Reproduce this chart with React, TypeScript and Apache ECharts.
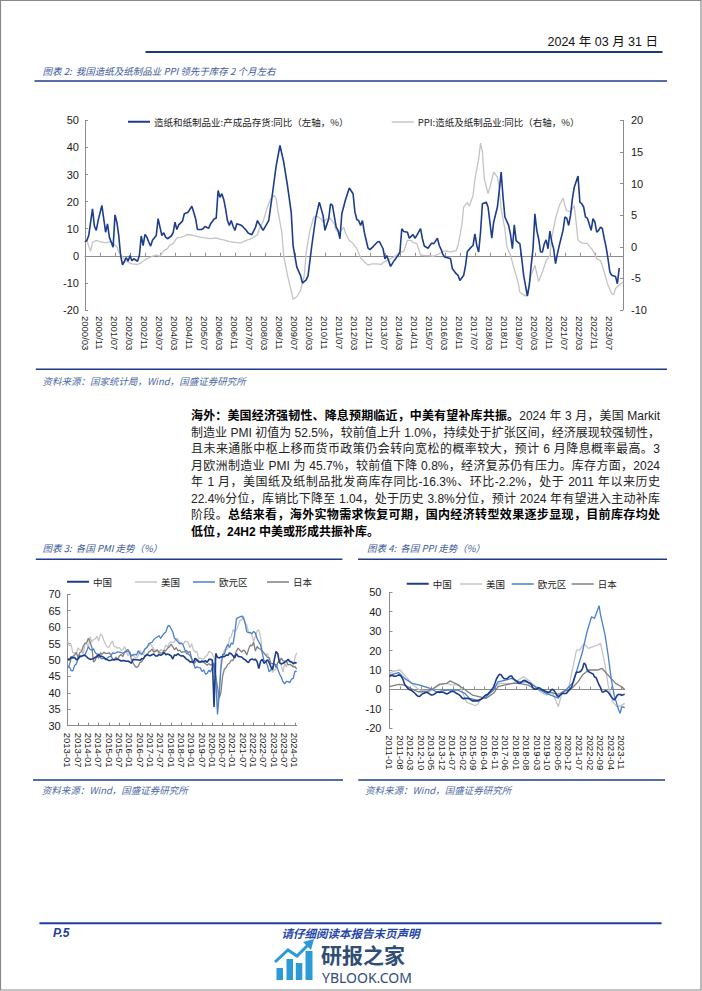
import React, { useEffect, useRef } from "react";
import * as echarts from "echarts";

// ---------- helpers for month category labels ----------
function monthSeq(y: number, m: number, n: number, sep: string): string[] {
  const out: string[] = [];
  for (let i = 0; i < n; i++) {
    const t = m - 1 + i;
    const yy = y + Math.floor(t / 12);
    const mm = (t % 12) + 1;
    out.push(`${yy}${sep}${mm < 10 ? "0" : ""}${mm}`);
  }
  return out;
}

// ---------- Chart 2 (图表2) data ----------
const invCategories = monthSeq(2000, 3, 288, "/");
const invName = "造纸和纸制品业:产成品存货:同比（左轴，%）";
const ppiPaperName = "PPI:造纸及纸制品业:同比（右轴，%）";

const inventoryYoY: [string, number][] = [
  ["2000/03", 5.1], ["2000/04", 5.7], ["2000/05", 7.5], ["2000/07", 17.3], ["2000/08", 11], ["2000/09", 9.4],
  ["2000/10", 13], ["2000/12", 18.6], ["2001/01", 13.6], ["2001/02", 8.7], ["2001/03", 11.8], ["2001/04", 6.9],
  ["2001/06", 3.2], ["2001/07", 15.1], ["2001/08", 12.4], ["2001/09", 7.5], ["2001/10", 0.1], ["2001/11", -3.3],
  ["2001/12", -2.1], ["2002/01", -0.7], ["2002/02", -2], ["2002/03", 0.1], ["2002/04", -1.8], ["2002/05", -1.1],
  ["2002/07", -2], ["2002/08", 0.1], ["2002/09", 7.3], ["2002/10", 3.8], ["2002/11", 7.9], ["2002/12", 6.9],
  ["2003/01", 5.1], ["2003/02", 3.6], ["2003/03", 5.7], ["2003/05", 7.5], ["2003/06", 13.7], ["2003/07", 10.6],
  ["2003/08", 7.5], ["2003/09", 8.5], ["2003/10", 6.9], ["2003/11", 6.3], ["2004/01", 7.3], ["2004/02", 8.5],
  ["2004/03", 12.4], ["2004/04", 9.7], ["2004/05", 11.4], ["2004/07", 12.8], ["2004/08", 15.5], ["2004/10", 16.1],
  ["2004/12", 18.3], ["2005/01", 16.1], ["2005/02", 13.7], ["2005/03", 9.7], ["2005/05", 9.7], ["2005/06", 10],
  ["2005/07", 10.8], ["2005/09", 10.2], ["2005/10", 11.8], ["2005/12", 13.7], ["2006/01", 13.9], ["2006/02", 24.1],
  ["2006/03", 21.6], ["2006/04", 22.9], ["2006/05", 20.8], ["2006/06", 17.3], ["2006/07", 13], ["2006/08", 11.2],
  ["2006/09", 13], ["2006/10", 10.9], ["2006/11", 9.4], ["2006/12", 11.8], ["2007/02", 11.4], ["2007/03", 10.9],
  ["2007/05", 9.4], ["2007/06", 8.4], ["2007/08", 7.8], ["2007/10", 10.6], ["2007/11", 13], ["2008/01", 10.6],
  ["2008/02", 9.4], ["2008/03", 10.6], ["2008/05", 13], ["2008/07", 22.9], ["2008/09", 33.3], ["2008/11", 40.7],
  ["2009/01", 34.6], ["2009/03", 26], ["2009/05", 16.1], ["2009/06", 3.8], ["2009/08", -4.2], ["2009/10", -7.3],
  ["2009/11", -10.1], ["2010/01", -8.9], ["2010/02", -7.3], ["2010/04", 3.8], ["2010/06", 13.7], ["2010/08", 19.8],
  ["2010/10", 14.9], ["2010/11", 9.4], ["2011/01", 13.7], ["2011/02", 19.2], ["2011/03", 18.6], ["2011/05", 10.6],
  ["2011/06", 9.4], ["2011/07", 6.3], ["2011/08", 15.5], ["2011/10", 20.8], ["2011/12", 25], ["2012/02", 22.9],
  ["2012/03", 16.1], ["2012/04", 13.4], ["2012/05", 13], ["2012/06", 11.2], ["2012/07", 13], ["2012/08", 8.7],
  ["2012/10", 2.8], ["2012/11", 2.3], ["2013/01", 3.6], ["2013/03", 5.1], ["2013/04", 5.3], ["2013/06", 2.6],
  ["2013/07", -1.1], ["2013/08", 0.1], ["2013/10", -3.9], ["2013/12", -1.7], ["2014/02", 0.1], ["2014/03", 1.4],
  ["2014/04", 10], ["2014/05", 9], ["2014/07", 8.7], ["2014/08", 6.5], ["2014/10", 7.8], ["2014/11", 6.5],
  ["2014/12", 7.5], ["2015/02", 10], ["2015/03", 6.3], ["2015/04", 3.6], ["2015/06", 2.8], ["2015/07", 3.8],
  ["2015/08", 4.7], ["2015/09", 4.4], ["2015/11", 6.5], ["2015/12", 3.8], ["2016/01", 2.3], ["2016/02", 0.4],
  ["2016/03", -0.5], ["2016/05", -0.8], ["2016/06", -1.1], ["2016/07", -4.8], ["2016/09", -6.6], ["2016/10", -7.2],
  ["2016/11", -9.1], ["2017/01", -7.2], ["2017/02", -3.6], ["2017/03", 1.6], ["2017/05", 3.2], ["2017/06", 3.8],
  ["2017/07", 8.1], ["2017/08", 3.8], ["2017/09", 1.4], ["2017/10", 8.7], ["2017/11", 19.2], ["2018/01", 19.8],
  ["2018/02", 18], ["2018/03", 12.4], ["2018/04", 6.5], ["2018/05", 12.4], ["2018/07", 18], ["2018/08", 24.1],
  ["2018/09", 30.9], ["2018/10", 21.7], ["2018/11", 14.3], ["2019/01", 11.2], ["2019/02", 7.8], ["2019/03", 2.6],
  ["2019/04", 11.4], ["2019/05", 5.6], ["2019/07", 4.4], ["2019/08", -1.1], ["2019/09", -7.2], ["2019/11", -14.9],
  ["2019/12", -10.9], ["2020/01", -3.6], ["2020/02", 2.6], ["2020/03", 15.5], ["2020/04", 9.4], ["2020/05", 6.3],
  ["2020/06", 1.4], ["2020/07", 1.4], ["2020/08", 4.4], ["2020/09", 5.9], ["2020/10", 2.6], ["2020/11", 9.1],
  ["2020/12", 5.1], ["2021/01", 2.6], ["2021/02", -2.9], ["2021/03", 0.7], ["2021/04", 3.8], ["2021/06", 9.4],
  ["2021/07", 14.3], ["2021/08", 13.9], ["2021/09", 11.2], ["2021/10", 14.9], ["2021/11", 21], ["2021/12", 25.3],
  ["2022/02", 29.4], ["2022/03", 19.8], ["2022/04", 19.2], ["2022/05", 18], ["2022/06", 14.3], ["2022/07", 13.9],
  ["2022/09", 9.4], ["2022/10", 13.7], ["2022/11", 12.4], ["2022/12", 8.7], ["2023/01", 9.4], ["2023/02", 10.6],
  ["2023/03", 10], ["2023/04", 6.3], ["2023/05", 3.2], ["2023/06", -1.1], ["2023/07", -6], ["2023/08", -7.2],
  ["2023/10", -7.6], ["2023/11", -10.3], ["2023/12", -4.5],
];

const paperPpiYoY: [string, number][] = [
  ["2000/03", 0.6], ["2000/04", 1.0], ["2000/06", -0.7], ["2000/07", 0.7], ["2000/09", 1.0], ["2000/11", 0.8],
  ["2001/02", 0.6], ["2001/04", 0.8], ["2001/06", 0.5], ["2001/08", 0], ["2001/09", -0.8], ["2001/11", -1.6],
  ["2002/01", -2.3], ["2002/04", -2.7], ["2002/07", -2.8], ["2002/09", -2.5], ["2002/12", -1.9], ["2003/03", -1.5],
  ["2003/05", -1.3], ["2003/07", -1.5], ["2003/09", -0.6], ["2003/11", -0.3], ["2003/12", 0.2], ["2004/02", 0.5],
  ["2004/04", 1.4], ["2004/06", 1.5], ["2004/08", 1.7], ["2004/09", 1.9], ["2004/11", 1.9], ["2005/02", 1.7],
  ["2005/05", 1.5], ["2005/07", 1.4], ["2005/10", 1.3], ["2006/01", 1.4], ["2006/03", 1.2], ["2006/06", 1.0],
  ["2006/08", 0.8], ["2006/11", 0.7], ["2007/02", 0.6], ["2007/05", 1.0], ["2007/07", 1.2], ["2007/09", 1.5],
  ["2007/11", 1.9], ["2007/12", 2.8], ["2008/02", 4.0], ["2008/04", 6.0], ["2008/06", 7.6], ["2008/08", 8.1],
  ["2008/09", 7.6], ["2008/10", 5.5], ["2008/12", 2.3], ["2009/01", -1.4], ["2009/03", -4.5], ["2009/05", -6.9],
  ["2009/06", -8.3], ["2009/08", -7.9], ["2009/10", -6.9], ["2009/12", -4.5], ["2010/01", -0.8], ["2010/03", 2.6],
  ["2010/05", 4.7], ["2010/07", 4.8], ["2010/09", 4.4], ["2010/10", 3.9], ["2010/12", 4.4], ["2011/02", 4.5],
  ["2011/04", 3.6], ["2011/05", 2.6], ["2011/07", 2.3], ["2011/09", 3.1], ["2011/10", 2.1], ["2011/12", 1.0],
  ["2012/02", 0.5], ["2012/04", -0.3], ["2012/06", -1.7], ["2012/08", -2.4], ["2012/10", -2.9], ["2012/12", -2.7],
  ["2013/02", -2.7], ["2013/05", -2.8], ["2013/06", -2.5], ["2013/08", -2.2], ["2013/10", -1.9], ["2014/01", -1.4],
  ["2014/03", -0.8], ["2014/05", -0.8], ["2014/07", 1.0], ["2014/09", 1.0], ["2014/10", 0.7], ["2014/12", 0.5],
  ["2015/02", -1.3], ["2015/04", -1.4], ["2015/06", -1.4], ["2015/09", -1.5], ["2015/12", -1.1], ["2016/02", -0.7],
  ["2016/04", -0.7], ["2016/06", -0.8], ["2016/09", -0.6], ["2016/10", 0.2], ["2016/12", 3.4], ["2017/01", 6.3],
  ["2017/03", 7.0], ["2017/04", 6.4], ["2017/06", 8.1], ["2017/07", 10.7], ["2017/09", 13.9], ["2017/10", 16.4],
  ["2017/11", 15.0], ["2017/12", 10.7], ["2018/02", 8.4], ["2018/03", 9.4], ["2018/05", 11.8], ["2018/07", 11.0],
  ["2018/08", 9.2], ["2018/09", 6.0], ["2018/11", 2.8], ["2018/12", 0], ["2019/02", -1.4], ["2019/04", -3.5],
  ["2019/06", -5.6], ["2019/07", -7.2], ["2019/10", -7.8], ["2019/11", -7.2], ["2020/01", -4.5], ["2020/03", -2.9],
  ["2020/05", -5.5], ["2020/07", -4.0], ["2020/09", -2.2], ["2020/11", -1.4], ["2020/12", 1.5], ["2021/02", 4.4],
  ["2021/04", 6.5], ["2021/06", 7.7], ["2021/07", 6.5], ["2021/08", 5.7], ["2021/10", 5.5], ["2021/12", 6.5],
  ["2022/01", 3.9], ["2022/02", 1.0], ["2022/04", 0.6], ["2022/07", 0.5], ["2022/10", -0.6], ["2022/12", -1.9],
  ["2023/02", -2.2], ["2023/04", -4.0], ["2023/06", -6.1], ["2023/08", -7.4], ["2023/09", -7.6], ["2023/10", -6.6],
  ["2023/12", -6.0], ["2024/01", -5.8], ["2024/02", -5.6],
];

// ---------- Chart 3 (PMI) data, monthly 2013-01 .. 2024-02 ----------
const pmiCategories = monthSeq(2013, 1, 134, "-");
const pmiChina = [
  50.4, 50.1, 50.9, 50.6, 50.8, 50.1, 50.3, 51.0, 51.1, 51.4, 51.4, 51.0,
  50.5, 50.2, 50.3, 50.4, 50.8, 51.0, 51.7, 51.1, 51.1, 50.8, 50.3, 50.1,
  49.8, 49.9, 50.1, 50.1, 50.2, 50.2, 50.0, 49.7, 49.8, 49.8, 49.6, 49.7,
  49.4, 49.0, 50.2, 50.1, 50.1, 50.0, 49.9, 50.4, 50.4, 51.2, 51.7, 51.4,
  51.3, 51.6, 51.8, 51.2, 51.2, 51.7, 51.4, 51.7, 52.4, 51.6, 51.8, 51.6,
  51.3, 50.3, 51.5, 51.4, 51.9, 51.5, 51.2, 51.3, 50.8, 50.2, 50.0, 49.4,
  49.5, 49.2, 50.5, 50.1, 49.4, 49.4, 49.7, 49.5, 49.8, 49.3, 50.2, 50.2,
  50.0, 35.7, 52.0, 50.8, 50.6, 50.9, 51.1, 51.0, 51.5, 51.4, 52.1, 51.9,
  51.3, 50.6, 51.9, 51.1, 51.0, 50.9, 50.4, 50.1, 49.6, 49.2, 50.1, 50.3,
  50.1, 50.2, 49.5, 47.4, 49.6, 50.2, 49.0, 49.4, 50.1, 49.2, 48.0, 47.0,
  50.1, 52.6, 51.9, 49.2, 48.8, 49.0, 49.3, 49.7, 50.2, 49.5, 49.4, 49.0,
  49.2, 49.1,
];
const pmiUS = [
  55.8, 54.3, 54.6, 52.1, 52.3, 51.9, 53.7, 53.1, 52.8, 51.8, 54.7, 55.0,
  53.7, 57.1, 55.5, 56.2, 56.4, 57.3, 55.8, 57.9, 57.5, 55.9, 54.8, 53.9,
  53.9, 55.1, 55.7, 54.1, 54.0, 53.6, 53.8, 53.0, 53.1, 54.1, 52.8, 51.2,
  52.4, 51.3, 51.5, 50.8, 50.7, 51.3, 52.9, 52.0, 51.5, 53.4, 54.1, 54.3,
  55.0, 54.2, 53.3, 52.8, 52.7, 52.0, 53.3, 52.8, 53.1, 54.6, 53.9, 55.1,
  55.5, 55.3, 55.6, 56.5, 56.4, 55.4, 55.3, 54.7, 55.6, 55.7, 55.3, 53.8,
  54.9, 53.0, 52.4, 52.6, 50.5, 50.6, 50.4, 50.3, 51.1, 51.3, 52.6, 52.4,
  51.9, 50.7, 48.5, 36.1, 39.8, 49.8, 50.9, 53.1, 53.2, 53.4, 56.7, 57.1,
  59.2, 58.6, 59.1, 60.5, 62.1, 62.1, 63.4, 61.1, 60.7, 58.4, 58.3, 57.7,
  55.5, 57.3, 58.8, 59.2, 57.0, 52.7, 52.2, 51.5, 52.0, 50.4, 47.7, 46.2,
  46.9, 47.3, 49.2, 50.2, 48.4, 46.3, 49.0, 47.9, 49.8, 50.0, 49.4, 47.9,
  50.7, 52.2,
];
const pmiEuro = [
  47.9, 47.9, 46.8, 46.7, 48.3, 48.8, 50.3, 51.4, 51.1, 51.3, 51.6, 52.7,
  54.0, 53.2, 53.0, 53.4, 52.2, 51.8, 51.8, 50.7, 50.3, 50.6, 50.1, 50.6,
  51.0, 51.0, 52.2, 52.0, 52.2, 52.5, 52.4, 52.3, 52.0, 52.3, 52.8, 53.2,
  52.3, 51.2, 51.6, 51.7, 51.5, 52.8, 52.0, 51.7, 52.6, 53.5, 53.7, 54.9,
  55.2, 55.4, 56.2, 56.7, 57.0, 57.4, 56.6, 57.4, 58.1, 58.5, 60.1, 60.6,
  59.6, 58.6, 56.6, 56.2, 55.5, 54.9, 55.1, 54.6, 53.2, 52.0, 51.8, 51.4,
  50.5, 49.3, 47.5, 47.9, 47.7, 47.6, 46.5, 47.0, 45.7, 45.9, 46.9, 46.3,
  47.9, 49.2, 44.5, 33.4, 39.4, 47.4, 51.8, 51.7, 53.7, 54.8, 53.8, 55.2,
  54.8, 57.9, 62.5, 62.9, 63.1, 63.4, 62.8, 61.4, 58.6, 58.3, 58.4, 58.0,
  58.7, 58.2, 56.5, 55.5, 54.6, 52.1, 49.8, 49.6, 48.4, 46.4, 47.1, 47.8,
  48.8, 48.5, 47.3, 45.8, 44.8, 43.4, 42.7, 43.5, 43.4, 43.1, 44.2, 44.4,
  46.6, 46.5,
];
const pmiJapan = [
  47.7, 48.5, 50.4, 51.1, 51.5, 52.3, 50.7, 52.2, 52.5, 54.2, 55.1, 55.2,
  56.6, 55.5, 53.9, 49.4, 49.9, 51.5, 50.5, 52.2, 51.7, 52.4, 52.0, 52.0,
  52.2, 51.6, 50.3, 49.9, 50.9, 50.1, 51.2, 51.7, 51.0, 52.4, 52.6, 52.6,
  52.3, 50.1, 49.1, 48.2, 47.7, 48.1, 49.3, 49.5, 50.4, 51.4, 51.3, 52.4,
  52.7, 53.3, 52.4, 52.7, 53.1, 52.4, 52.1, 52.2, 52.9, 52.8, 53.6, 54.0,
  54.8, 54.1, 53.1, 53.8, 52.8, 53.0, 52.3, 52.5, 52.5, 52.9, 52.2, 52.6,
  50.3, 48.9, 49.2, 50.2, 49.8, 49.3, 49.4, 49.3, 48.9, 48.4, 48.9, 48.4,
  48.8, 47.8, 44.8, 41.9, 38.4, 40.1, 45.2, 47.2, 47.7, 48.7, 49.0, 50.0,
  49.8, 51.4, 52.7, 53.6, 53.0, 52.4, 53.0, 52.7, 51.5, 53.2, 54.5, 54.3,
  55.4, 52.7, 54.1, 53.5, 53.3, 52.7, 52.1, 51.5, 50.8, 50.7, 49.0, 48.9,
  48.9, 47.7, 49.2, 49.5, 50.6, 49.8, 49.6, 49.6, 48.5, 48.7, 48.3, 47.9,
  48.0, 47.2,
];

// ---------- Chart 4 (PPI) data ----------
const ppiCategories = monthSeq(2011, 1, 157, "-");
const ppiChina = [
  6.6, 7.2, 7.3, 6.8, 6.8, 7.1, 7.5, 7.3, 6.5, 5.0, 2.7, 1.7,
  0.7, 0.0, -0.3, -0.7, -1.4, -2.1, -2.9, -3.5, -3.6, -2.8, -2.2, -1.9,
  -1.6, -1.6, -1.9, -2.6, -2.9, -2.7, -2.3, -1.6, -1.3, -1.5, -1.4, -1.4,
  -1.6, -2.0, -2.3, -2.0, -1.4, -1.1, -0.9, -1.2, -1.8, -2.2, -2.7, -3.3,
  -4.3, -4.8, -4.6, -4.6, -4.6, -4.8, -5.4, -5.9, -5.9, -5.9, -5.9, -5.9,
  -5.3, -4.9, -4.3, -3.4, -2.8, -2.6, -1.7, -0.8, 0.1, 1.2, 3.3, 5.5,
  6.9, 7.8, 7.6, 6.4, 5.5, 5.5, 5.5, 6.3, 6.9, 6.9, 5.8, 4.9,
  4.3, 3.7, 3.1, 3.4, 4.1, 4.7, 4.6, 4.1, 3.6, 3.3, 2.7, 0.9,
  0.1, 0.1, 0.4, 0.9, 0.6, 0.0, -0.3, -0.8, -1.2, -1.6, -1.4, -0.5,
  0.1, -0.4, -1.5, -3.1, -3.7, -3.0, -2.4, -2.0, -2.1, -2.1, -1.5, -0.4,
  0.3, 1.7, 4.4, 6.8, 9.0, 8.8, 9.0, 9.5, 10.7, 13.5, 12.9, 10.3,
  9.1, 8.8, 8.3, 8.0, 6.4, 6.1, 4.2, 2.3, 0.9, -1.3, -1.3, -0.7,
  -0.8, -1.4, -2.5, -3.6, -4.6, -5.4, -4.4, -3.0, -2.5, -2.6, -3.0, -2.7,
  -2.5,
];
const ppiUS: [string, number][] = [
  ["2011-01", 8.3], ["2011-04", 9.5], ["2011-08", 10], ["2011-12", 6.5], ["2012-05", 2.2], ["2012-09", -0.3],
  ["2013-04", -0.8], ["2013-10", 2.3], ["2014-03", 3.1], ["2014-06", 2.3], ["2014-11", 2.3], ["2015-01", -0.5],
  ["2015-04", -6.5], ["2015-10", -8.4], ["2015-12", -7.2], ["2016-02", -4.6], ["2016-08", -1.2], ["2016-11", 1.4],
  ["2017-02", 3.1], ["2017-07", 3.1], ["2017-11", 3.1], ["2018-06", 6.5], ["2018-09", 4.8], ["2019-01", 2.2],
  ["2019-05", -1.2], ["2019-09", -2.9], ["2020-01", -1.5], ["2020-05", -8.9], ["2020-07", -2.9], ["2020-12", 1.4],
  ["2021-05", 20.2], ["2021-07", 20.2], ["2021-10", 23.6], ["2022-01", 21.1], ["2022-04", 22.0], ["2022-07", 22.8],
  ["2022-09", 23.7], ["2022-12", 12.5], ["2023-02", 2.2], ["2023-05", -6.4], ["2023-08", -9.0], ["2023-11", -8.1],
  ["2024-01", -7.2],
];
const ppiEuro: [string, number][] = [
  ["2011-01", 7.4], ["2011-07", 8.7], ["2011-11", 5.7], ["2012-04", 3.1], ["2012-09", 2.2], ["2013-04", 0.5],
  ["2013-08", -1.2], ["2014-03", -0.3], ["2014-10", -0.3], ["2015-03", -2], ["2015-06", -4.6], ["2015-11", -5.5],
  ["2016-02", -5], ["2016-05", -3.8], ["2016-10", -0.3], ["2017-01", 3.9], ["2017-06", 4.8], ["2017-10", 5.7],
  ["2018-03", 3.9], ["2018-08", 3.9], ["2018-12", 2.2], ["2019-05", -0.3], ["2019-09", -2], ["2019-12", -2.9],
  ["2020-05", -4.5], ["2020-07", -2], ["2020-11", 0.5], ["2021-03", 3.9], ["2021-06", 11.7], ["2021-09", 19.4],
  ["2021-12", 29.7], ["2022-03", 37.4], ["2022-05", 36.6], ["2022-08", 43.1], ["2022-09", 38.3], ["2022-12", 28],
  ["2023-02", 17.7], ["2023-04", 5.7], ["2023-06", -2.9], ["2023-09", -10.6], ["2023-10", -12.3], ["2023-11", -8.9],
  ["2024-01", -9.4],
];
const ppiJapan: [string, number][] = [
  ["2011-01", 1.4], ["2011-07", 2.6], ["2011-11", 2.2], ["2012-04", 0.2], ["2012-08", -1.2], ["2013-02", -1.2],
  ["2013-06", 0.5], ["2013-10", 2.6], ["2014-03", 3.1], ["2014-05", 4.4], ["2014-10", 2.6], ["2015-02", 0.5],
  ["2015-05", -1.2], ["2015-08", -2.9], ["2016-01", -3.8], ["2016-05", -4.6], ["2016-10", -2], ["2017-01", 1.4],
  ["2017-05", 2.2], ["2017-11", 3.1], ["2018-03", 3.1], ["2018-09", 2.2], ["2019-01", 0.5], ["2019-07", -0.8],
  ["2019-12", -1.5], ["2020-05", -2.5], ["2020-09", -0.8], ["2020-12", -0.5], ["2021-03", 1.4], ["2021-06", 3.9],
  ["2021-09", 7.4], ["2022-01", 10], ["2022-04", 10], ["2022-07", 10], ["2022-10", 10.8], ["2023-01", 8.2],
  ["2023-04", 5.7], ["2023-07", 3.1], ["2023-11", 1.4], ["2024-01", 0],
];

const countryNames = ["中国", "美国", "欧元区", "日本"];

// ---------- page text ----------
type Seg = [string, boolean];
const paragraphLines: Seg[][] = [
  [["海外：美国经济强韧性、降息预期临近，中美有望补库共振。", true], ["2024 年 3 月，美国 Markit", false]],
  [["制造业 PMI 初值为 52.5%，较前值上升 1.0%，持续处于扩张区间，经济展现较强韧性，", false]],
  [["且未来通胀中枢上移而货币政策仍会转向宽松的概率较大，预计 6 月降息概率最高。3", false]],
  [["月欧洲制造业 PMI 为 45.7%，较前值下降 0.8%，经济复苏仍有压力。库存方面，2024", false]],
  [["年 1 月，美国纸及纸制品批发商库存同比-16.3%、环比-2.2%，处于 2011 年以来历史", false]],
  [["22.4%分位，库销比下降至 1.04，处于历史 3.8%分位，预计 2024 年有望进入主动补库", false]],
  [["阶段。", false], ["总结来看，海外实物需求恢复可期，国内经济转型效果逐步显现，目前库存均处", true]],
  [["低位，24H2 中美或形成共振补库。", true]],
];

const NUM_FONT = "'Liberation Sans', 'Noto Sans CJK SC', sans-serif";
const CJK_FONT = "'Noto Sans CJK SC', sans-serif";
const AXIS_GRAY = "#8c8c8c";
const LABEL_COLOR = "#1a1a1a";

function toPairs(cats: string[], rows: [string, number][]) {
  const idx = new Map(cats.map((c, i) => [c, i] as [string, number]));
  return rows.map(([d, v]) => [idx.get(d) as number, v]);
}

function buildOption(): any {
  const xLabel = (interval: number, margin: number) => ({
    interval,
    rotate: -90,
    fontSize: 9.5,
    margin,
    color: LABEL_COLOR,
    fontFamily: NUM_FONT,
  });
  const yLabel = (margin: number) => ({ fontSize: 11, margin, color: LABEL_COLOR, fontFamily: NUM_FONT });

  const legendItem = (name: string, left: number, centerY: number, h = 2) => ({
    data: [name],
    left,
    top: centerY - h / 2,
    icon: "rect",
    itemWidth: 22,
    itemHeight: h,
    padding: 0,
    selectedMode: false,
    textStyle: { fontSize: 9.5, color: "#222", fontFamily: CJK_FONT, padding: [0, 0, 0, -1] },
  });

  const lineSeries = (name: string, xi: number, yi: number, data: any[], color: string, width: number, z: number) => ({
    name,
    type: "line",
    xAxisIndex: xi,
    yAxisIndex: yi,
    data,
    symbol: "none",
    showSymbol: false,
    z,
    lineStyle: { color, width },
    itemStyle: { color },
  });

  const colors = ["#1c3c8c", "#c4c4c4", "#4a7fcf", "#7f7f7f"];
  const widths = [1.6, 1.3, 1.3, 1.3];
  const zs = [6, 3, 5, 4];

  const T = (x: number, y: number, text: string, style: any) => ({
    type: "text",
    x,
    y,
    silent: true,
    style: { text, verticalAlign: "middle", align: "left", ...style },
  });
  const L = (x1: number, y1: number, x2: number, y2: number, stroke: string, lineWidth: number) => ({
    type: "line",
    silent: true,
    shape: { x1, y1, x2, y2 },
    style: { stroke, lineWidth },
  });
  const titleStyle = { fontSize: 9.5, fontStyle: "italic", fill: "#3d5a99", fontFamily: CJK_FONT };
  const srcStyle = { fontSize: 9.5, fontStyle: "italic", fill: "#4d6aa3", fontFamily: CJK_FONT };
  const SEC = "#1f3b8c";
  const logoBlue = "#2b9ad6";

  const graphic = [
    { type: "rect", silent: true, shape: { x: 0.5, y: 0.5, width: 700.5, height: 989.5 }, style: { fill: "none", stroke: "#8a8a8a", lineWidth: 1.2 } },
    T(658, 42, "2024 年 03 月 31 日", { align: "right", fontSize: 12.5, fill: "#111", fontFamily: NUM_FONT }),
    L(145.5, 52, 662.5, 52, "#1a3a78", 2),
    T(42.5, 71, "图表 2:  我国造纸及纸制品业 PPI 领先于库存 2 个月左右", titleStyle),
    L(34.5, 81, 667, 81, SEC, 1.5),
    L(35.8, 369.3, 667, 369.3, SEC, 1.5),
    T(42.5, 381, "资料来源：国家统计局，Wind，国盛证券研究所", srcStyle),
    T(42.5, 548, "图表 3:  各国 PMI 走势（%）", titleStyle),
    T(367, 548, "图表 4:  各国 PPI 走势（%）", titleStyle),
    L(35.8, 559.3, 342.4, 559.3, SEC, 1.5),
    L(358, 559.3, 667, 559.3, SEC, 1.5),
    L(33, 780, 343, 780, SEC, 1.5),
    L(358.3, 780, 665, 780, SEC, 1.5),
    T(41.7, 790, "资料来源：Wind，国盛证券研究所", srcStyle),
    T(365, 790, "资料来源：Wind，国盛证券研究所", srcStyle),
    L(39.4, 923.3, 661.6, 923.3, "#1f3fa0", 2),
    T(53, 932.5, "P.5", { fontSize: 12, fontWeight: "bold", fontStyle: "italic", fill: "#1f3fa0", fontFamily: NUM_FONT }),
    T(350.5, 932.5, "请仔细阅读本报告末页声明", { align: "center", fontSize: 11.5, fontWeight: "bold", fontStyle: "italic", fill: "#2645a8", fontFamily: CJK_FONT }),
    // logo
    { type: "rect", silent: true, shape: { x: 276.5, y: 968, width: 6.5, height: 12 }, style: { fill: logoBlue } },
    { type: "rect", silent: true, shape: { x: 286.5, y: 959, width: 6.5, height: 21 }, style: { fill: logoBlue } },
    { type: "rect", silent: true, shape: { x: 295.8, y: 963, width: 6.5, height: 17 }, style: { fill: logoBlue } },
    { type: "rect", silent: true, shape: { x: 305.5, y: 951, width: 7, height: 29 }, style: { fill: logoBlue } },
    { type: "polyline", silent: true, shape: { points: [[275, 962], [288, 950], [297, 956], [308, 945]] }, style: { stroke: logoBlue, lineWidth: 3, fill: "none" } },
    { type: "polygon", silent: true, shape: { points: [[303, 942], [314, 939], [311, 950]] }, style: { fill: logoBlue } },
    T(321, 954, "研报之家", { fontSize: 21, fontWeight: "bold", fill: "#2f4d75", fontFamily: CJK_FONT }),
    T(322, 977, "YBLOOK.COM", { fontSize: 14, fill: "#2f4d75", fontFamily: "'Noto Sans', sans-serif" }),
  ];

  return {
    animation: false,
    backgroundColor: "#ffffff",
    textStyle: { fontFamily: NUM_FONT },
    grid: [
      { left: 85, top: 120.3, width: 538, height: 189.7, containLabel: false },
      { left: 67.7, top: 594.3, width: 229, height: 131.4, containLabel: false },
      { left: 389.5, top: 592.3, width: 235.2, height: 136, containLabel: false },
    ],
    xAxis: [
      {
        type: "category", gridIndex: 0, data: invCategories, boundaryGap: false, position: "bottom",
        axisLine: { show: false, onZero: false }, axisTick: { show: false }, axisLabel: xLabel(7, 6), splitLine: { show: false },
      },
      {
        type: "category", gridIndex: 0, data: invCategories, boundaryGap: false, position: "top",
        axisLine: { show: true, onZero: true, lineStyle: { color: AXIS_GRAY, width: 1 } },
        axisTick: { show: true, interval: 7, length: 3, inside: false, lineStyle: { color: AXIS_GRAY } },
        axisLabel: { show: false }, splitLine: { show: false },
      },
      {
        type: "category", gridIndex: 1, data: pmiCategories, boundaryGap: false, position: "bottom",
        axisLine: { show: true, onZero: false, lineStyle: { color: AXIS_GRAY, width: 1 } },
        axisTick: { show: true, interval: 5, length: 3, inside: true, lineStyle: { color: AXIS_GRAY } },
        axisLabel: xLabel(5, 7), splitLine: { show: false },
      },
      {
        type: "category", gridIndex: 2, data: ppiCategories, boundaryGap: false, position: "bottom",
        axisLine: { show: false, onZero: false }, axisTick: { show: false }, axisLabel: xLabel(6, 7), splitLine: { show: false },
      },
      {
        type: "category", gridIndex: 2, data: ppiCategories, boundaryGap: false, position: "top",
        axisLine: { show: true, onZero: true, lineStyle: { color: AXIS_GRAY, width: 1 } },
        axisTick: { show: true, interval: 6, length: 3, inside: false, lineStyle: { color: AXIS_GRAY } },
        axisLabel: { show: false }, splitLine: { show: false },
      },
    ],
    yAxis: [
      {
        type: "value", gridIndex: 0, min: -20, max: 50, interval: 10, position: "left",
        axisLine: { show: true, lineStyle: { color: AXIS_GRAY } },
        axisTick: { show: true, inside: true, length: 3, lineStyle: { color: AXIS_GRAY } },
        axisLabel: yLabel(6), splitLine: { show: false },
      },
      {
        type: "value", gridIndex: 0, min: -10, max: 20, interval: 5, position: "right",
        axisLine: { show: true, lineStyle: { color: AXIS_GRAY } },
        axisTick: { show: true, inside: true, length: 3, lineStyle: { color: AXIS_GRAY } },
        axisLabel: yLabel(8), splitLine: { show: false },
      },
      {
        type: "value", gridIndex: 1, min: 30, max: 70, interval: 5,
        axisLine: { show: true, lineStyle: { color: AXIS_GRAY } },
        axisTick: { show: true, inside: true, length: 3, lineStyle: { color: AXIS_GRAY } },
        axisLabel: yLabel(7), splitLine: { show: false },
      },
      {
        type: "value", gridIndex: 2, min: -20, max: 50, interval: 10,
        axisLine: { show: true, lineStyle: { color: AXIS_GRAY } },
        axisTick: { show: true, inside: true, length: 3, lineStyle: { color: AXIS_GRAY } },
        axisLabel: yLabel(8), splitLine: { show: false },
      },
    ],
    legend: [
      legendItem(invName, 128, 118),
      legendItem(ppiPaperName, 391.7, 118, 1.5),
      legendItem(countryNames[0], 67, 578),
      legendItem(countryNames[1], 135, 578, 1.5),
      legendItem(countryNames[2], 193, 578, 1.5),
      legendItem(countryNames[3], 267, 578, 1.5),
      legendItem(countryNames[0], 406.7, 580),
      legendItem(countryNames[1], 460, 580, 1.5),
      legendItem(countryNames[2], 511.7, 580, 1.5),
      legendItem(countryNames[3], 571.7, 580, 1.5),
    ],
    series: [
      lineSeries(ppiPaperName, 0, 1, toPairs(invCategories, paperPpiYoY), "#c4c4c4", 1.3, 3),
      lineSeries(invName, 0, 0, toPairs(invCategories, inventoryYoY), "#1c3c8c", 1.6, 5),
      // PMI
      lineSeries(countryNames[0], 2, 2, pmiChina, colors[0], widths[0], zs[0]),
      lineSeries(countryNames[1], 2, 2, pmiUS, colors[1], widths[1], zs[1]),
      lineSeries(countryNames[2], 2, 2, pmiEuro, colors[2], widths[2], zs[2]),
      lineSeries(countryNames[3], 2, 2, pmiJapan, colors[3], widths[3], zs[3]),
      // PPI
      lineSeries(countryNames[0], 3, 3, ppiChina, colors[0], widths[0], zs[0]),
      lineSeries(countryNames[1], 3, 3, toPairs(ppiCategories, ppiUS), colors[1], widths[1], zs[1]),
      lineSeries(countryNames[2], 3, 3, toPairs(ppiCategories, ppiEuro), colors[2], widths[2], zs[2]),
      lineSeries(countryNames[3], 3, 3, toPairs(ppiCategories, ppiJapan), colors[3], widths[3], zs[3]),
    ],
    graphic,
  };
}

export default function App() {
  const ref = useRef<HTMLDivElement>(null);
  useEffect(() => {
    if (!ref.current) return;
    const chart = echarts.init(ref.current, undefined, { renderer: "svg" });
    chart.setOption(buildOption());
    return () => chart.dispose();
  }, []);

  const lineTop0 = 416;
  const lineStep = 16.57;
  return (
    <div style={{ position: "absolute", left: 0, top: 0, width: 702, height: 991, background: "#fff", overflow: "hidden" }}>
      <div ref={ref} style={{ position: "absolute", left: 0, top: 0, width: 702, height: 991 }} />
      {paragraphLines.map((segs, i) => {
        const last = i === paragraphLines.length - 1;
        return (
          <div
            key={i}
            style={{
              position: "absolute",
              left: 191,
              width: 469,
              top: lineTop0 + i * lineStep - 8,
              height: 16,
              lineHeight: "16px",
              fontSize: 12,
              fontFamily: "'Liberation Sans', 'Noto Sans CJK SC', sans-serif",
              color: "#222",
              whiteSpace: "nowrap",
              textAlign: last ? "left" : "justify",
              textAlignLast: last ? "left" : "justify",
              zIndex: 2,
            } as React.CSSProperties}
          >
            {segs.map(([t, b], j) => (
              <span key={j} style={{ fontWeight: b ? 700 : 400, color: b ? "#000" : "#222" }}>
                {t}
              </span>
            ))}
          </div>
        );
      })}
    </div>
  );
}
